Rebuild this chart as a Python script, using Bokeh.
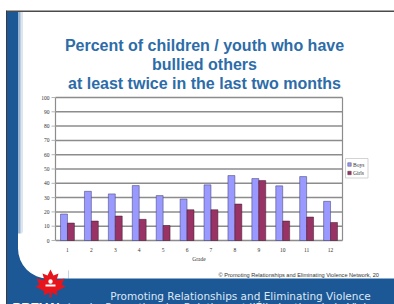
from bokeh.plotting import figure
from bokeh.models import Range1d, ColumnDataSource
from bokeh.core.properties import value
from bokeh.transform import dodge
from bokeh.embed import file_html
from bokeh.resources import INLINE

# ---- data ----
grades = list(range(1, 13))
boys = [18.5, 34.4, 32.6, 38.4, 31.4, 29.0, 38.9, 45.4, 43.3, 38.2, 44.7, 27.4]
girls = [12.2, 13.6, 17.1, 14.8, 10.5, 21.5, 21.5, 25.5, 41.9, 13.6, 16.4, 12.6]
y_ticks = list(range(0, 101, 10))
series_names = ["Boys", "Girls"]
title_lines = ["Percent of children / youth who have",
               "bullied others",
               "at least twice in the last two months"]
x_title = "Grade"
copyright_text = "\u00a9 Promoting Relationships and Eliminating Violence Network, 20"
banner_1 = "Promoting Relationships and Eliminating Violence"
banner_2 = "La Promotion des Relations et l\u2019\u00c9limination de la Violence"
logo_text = "PREV.Net"

# ---- layout (canvas px, origin top-left) ----
W, H = 394, 304
FL, FR, FT, FB = 55, 342, 97, 240          # chart plot area
Y_MIN, Y_MAX = 0, 100
X_MIN, X_MAX = grades[0] - 0.5, grades[-1] + 0.5

BOY_C = "#9999FF"
GIRL_C = "#993366"
GRID_C = "#8c8c8c"
TITLE_C = "#2D6CA8"
BLUE = "#1C5896"
SERIF = "Liberation Serif"
SANS = "Liberation Sans"
WIDE = "DejaVu Sans"

# whole canvas is the frame; px ranges for slide decorations
p = figure(width=W, height=H, x_range=Range1d(0, W), y_range=Range1d(H, 0),
           output_backend="svg", toolbar_location=None,
           x_axis_location=None, y_axis_location=None,
           min_border=0, min_border_left=0, min_border_right=0,
           min_border_top=0, min_border_bottom=0,
           background_fill_color="white", border_fill_color="white",
           outline_line_color=None)
p.grid.visible = False

# data ranges for the chart, mapped onto the chart area of the canvas
xs_per_px = (X_MAX - X_MIN) / (FR - FL)
ys_per_px = (Y_MAX - Y_MIN) / (FB - FT)
p.extra_x_ranges = {"g": Range1d(X_MIN - FL * xs_per_px, X_MAX + (W - FR) * xs_per_px)}
p.extra_y_ranges = {"v": Range1d(Y_MIN - (H - FB) * ys_per_px, Y_MAX + FT * ys_per_px)}
G = dict(x_range_name="g", y_range_name="v")

# ---- slide decorations ----
p.quad(left=6, right=W, top=10, bottom=11.5, fill_color="#4a4a4a", line_color=None)
p.quad(left=5.5, right=6.5, top=10, bottom=H, fill_color="#3a3a3a", line_color=None)
p.quad(left=6.5, right=17.5, top=11.5, bottom=H, fill_color=BLUE, line_color=None)
p.quad(left=17.5, right=20, top=11.5, bottom=258, fill_color=BLUE, fill_alpha=0.45, line_color=None)
p.quad(left=20, right=22.5, top=11.5, bottom=258, fill_color=BLUE, fill_alpha=0.15, line_color=None)
p.quad(left=6.5, right=68, top=238, bottom=H, fill_color=BLUE, line_color=None)
p.quad(left=6.5, right=W, top=278, bottom=H, fill_color=BLUE, line_color=None)
# white slide with rounded bottom-left corner
p.quad(left=17.5, right=68, top=233, bottom=248, fill_color="white", line_color=None)
p.quad(left=47.5, right=68, top=248, bottom=278, fill_color="white", line_color=None)
p.circle(x=[47.5], y=[248], radius=30, fill_color="white", line_color=None)

# titles and slide texts
p.text(x=[204] * 3, y=[44.5, 63.5, 82.5], text=title_lines,
       text_font=value(SANS), text_font_style="bold", text_font_size=value("16px"),
       text_color=TITLE_C, text_align="center", text_baseline="alphabetic")
p.text(x=[218], y=[274], text=[copyright_text], text_font=value(SANS),
       text_font_size=value("5.6px"), text_color="#333333",
       text_align="left", text_baseline="middle")
p.text(x=[240, 240], y=[295, 306], text=[banner_1, banner_2], text_font=value(WIDE),
       text_font_size=value("10.5px"), text_color="#dce8f5",
       text_align="center", text_baseline="alphabetic")
p.text(x=[12], y=[307], text=[logo_text], text_font=value(SANS), text_font_style="bold",
       text_font_size=value("13px"), text_color="white",
       text_align="left", text_baseline="alphabetic")

# maple leaf logo
leaf = [(0, -14), (3, -8), (8, -10), (6, -3), (14, -5), (11, 1), (15, 3), (6, 8),
        (7, 12), (1, 9), (1, 14), (-1, 14), (-1, 9), (-7, 12), (-6, 8), (-15, 3),
        (-11, 1), (-14, -5), (-6, -3), (-8, -10), (-3, -8)]
lx, ly = 50, 283
p.patch(x=[lx + dx for dx, dy in leaf], y=[ly + dy for dx, dy in leaf],
        fill_color="#E8141C", line_color=None)
p.circle(x=[lx], y=[ly - 2], radius=2.2, fill_color="white", line_color=None)
p.quad(left=lx - 5, right=lx + 5, top=ly + 1, bottom=ly + 3,
       fill_color="white", line_color=None)

# ---- chart ----
src = ColumnDataSource(dict(grade=grades, boys=boys, girls=girls))

# horizontal gridlines and frame
p.segment(x0=[X_MIN] * len(y_ticks), x1=[X_MAX] * len(y_ticks), y0=y_ticks, y1=y_ticks,
          line_color=GRID_C, line_width=1.5, **G)
p.segment(x0=[X_MIN, X_MAX], x1=[X_MIN, X_MAX], y0=[Y_MIN] * 2, y1=[Y_MAX] * 2,
          line_color=GRID_C, line_width=1.2, **G)
# y tick marks
tick = 4 * xs_per_px
p.segment(x0=[X_MIN - tick] * len(y_ticks), x1=[X_MIN] * len(y_ticks),
          y0=y_ticks, y1=y_ticks, line_color="#b4b4b4", line_width=1, **G)

rb = p.vbar(x=dodge("grade", -0.145), top="boys", width=0.29, source=src,
            fill_color=BOY_C, line_color="#3a3a66", line_width=0.5, **G)
rg = p.vbar(x=dodge("grade", 0.145), top="girls", width=0.29, source=src,
            fill_color=GIRL_C, line_color="#3a1a2a", line_width=0.5, **G)

# tick labels
p.text(x=[X_MIN] * len(y_ticks), y=y_ticks, text=[str(t) for t in y_ticks],
       x_offset=-6, text_font=value(SERIF), text_font_size=value("5.5px"),
       text_color="#333333", text_align="right", text_baseline="middle", **G)
p.text(x=grades, y=[Y_MIN] * len(grades), text=[str(g) for g in grades],
       y_offset=9, text_font=value(SERIF), text_font_size=value("5.5px"),
       text_color="#333333", text_align="center", text_baseline="middle", **G)
p.text(x=[(X_MIN + X_MAX) / 2], y=[Y_MIN], text=[x_title], y_offset=18,
       text_font=value(SERIF), text_font_size=value("5.5px"),
       text_color="#333333", text_align="center", text_baseline="middle", **G)

# legend (drawn in canvas px)
p.quad(left=345, right=367.5, top=158, bottom=177.5, fill_color="white",
       line_color="#c8c8c8", line_width=0.8)
p.rect(x=[349, 349], y=[164, 172.5], width=3.5, height=3.5,
       fill_color=[BOY_C, GIRL_C], line_color="#333333", line_width=0.4)
p.text(x=[352.5, 352.5], y=[164, 172.5], text=series_names, text_font=value(SERIF),
       text_font_size=value("5.5px"), text_color="#333333",
       text_align="left", text_baseline="middle")

open("out.html", "w").write(file_html(p, INLINE))
